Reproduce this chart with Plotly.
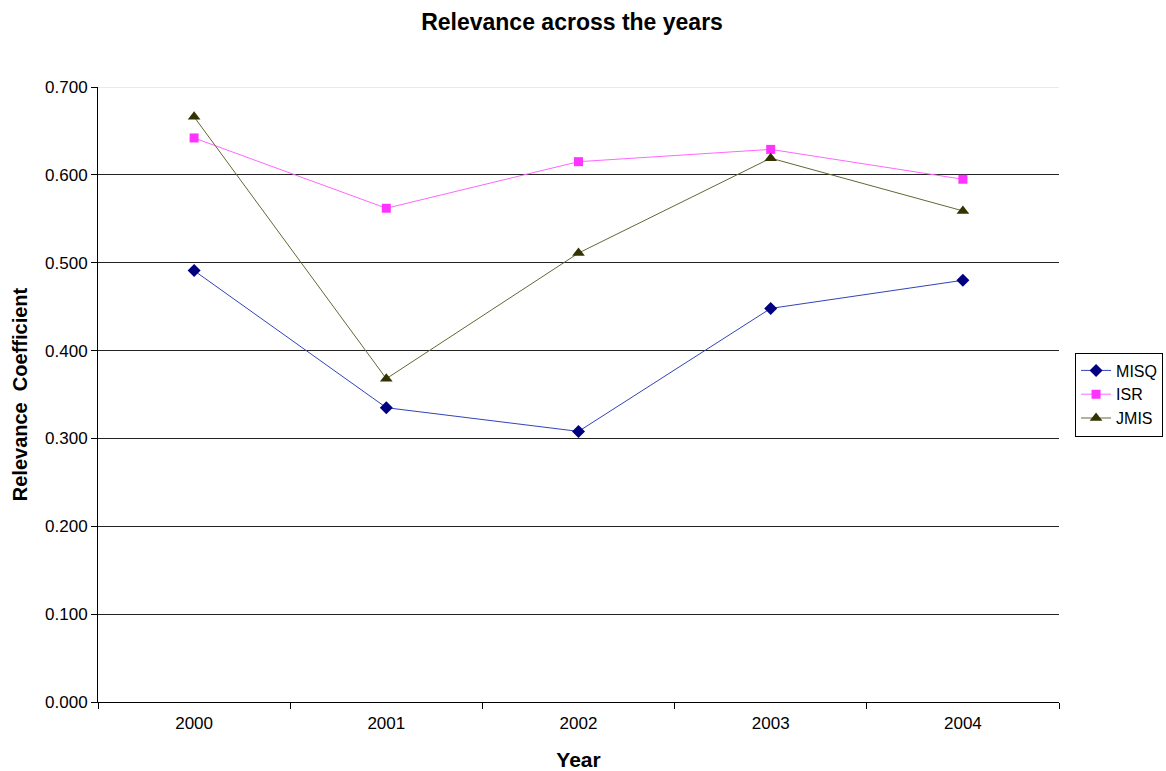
import plotly.graph_objects as go

years = ["2000", "2001", "2002", "2003", "2004"]
misq = [0.491, 0.335, 0.308, 0.448, 0.480]
isr = [0.642, 0.562, 0.615, 0.629, 0.595]
jmis = [0.666, 0.368, 0.511, 0.619, 0.559]

font = "Arial, Liberation Sans, sans-serif"

fig = go.Figure()
fig.add_trace(go.Scatter(
    x=years, y=misq, name="MISQ", mode="lines+markers",
    line=dict(color="#3344b8", width=1),
    marker=dict(symbol="diamond", size=10, color="#000080"),
))
fig.add_trace(go.Scatter(
    x=years, y=isr, name="ISR", mode="lines+markers",
    line=dict(color="#ff66ff", width=1),
    marker=dict(symbol="square", size=9, color="#ff33ff"),
))
fig.add_trace(go.Scatter(
    x=years, y=jmis, name="JMIS", mode="lines+markers",
    line=dict(color="#666633", width=1),
    marker=dict(symbol="triangle-up", size=11, color="#333300"),
))

# light top border of the plot area at 0.700
fig.add_shape(type="line", xref="paper", yref="y", x0=0, x1=1, y0=0.7, y1=0.7,
              line=dict(color="#d4d4d4", width=1), layer="between")

fig.update_layout(
    width=1166, height=771,
    margin=dict(l=98, r=107, t=87, b=69, autoexpand=False),
    paper_bgcolor="white", plot_bgcolor="white",
    font=dict(family=font, size=17, color="black"),
    title=dict(text="<b>Relevance across the years</b>", x=0.4906, xanchor="center",
               y=0.972, yanchor="middle", font=dict(size=23)),
    showlegend=True,
    legend=dict(x=1.0167, xanchor="left", y=0.5, yanchor="middle",
                bordercolor="black", borderwidth=1, bgcolor="white",
                font=dict(size=16), tracegroupgap=4),
    xaxis=dict(
        type="category", tickson="boundaries", ticks="outside", ticklen=6,
        tickcolor="black", showline=True, linecolor="black", linewidth=1,
        showgrid=False, range=[-0.5, 4.5], ticklabelstandoff=6,
        title=dict(text="<b>Year</b>", font=dict(size=21), standoff=19),
    ),
    yaxis=dict(
        range=[0, 0.7], dtick=0.1, tickformat=".3f", ticks="outside", ticklen=6,
        tickcolor="black", showline=True, linecolor="black", linewidth=1,
        showgrid=True, gridcolor="#222222", gridwidth=1, zeroline=False,
        title=dict(text="<b>Relevance  Coefficient</b>", font=dict(size=20), standoff=12),
    ),
)

fig.write_html("out.html")
